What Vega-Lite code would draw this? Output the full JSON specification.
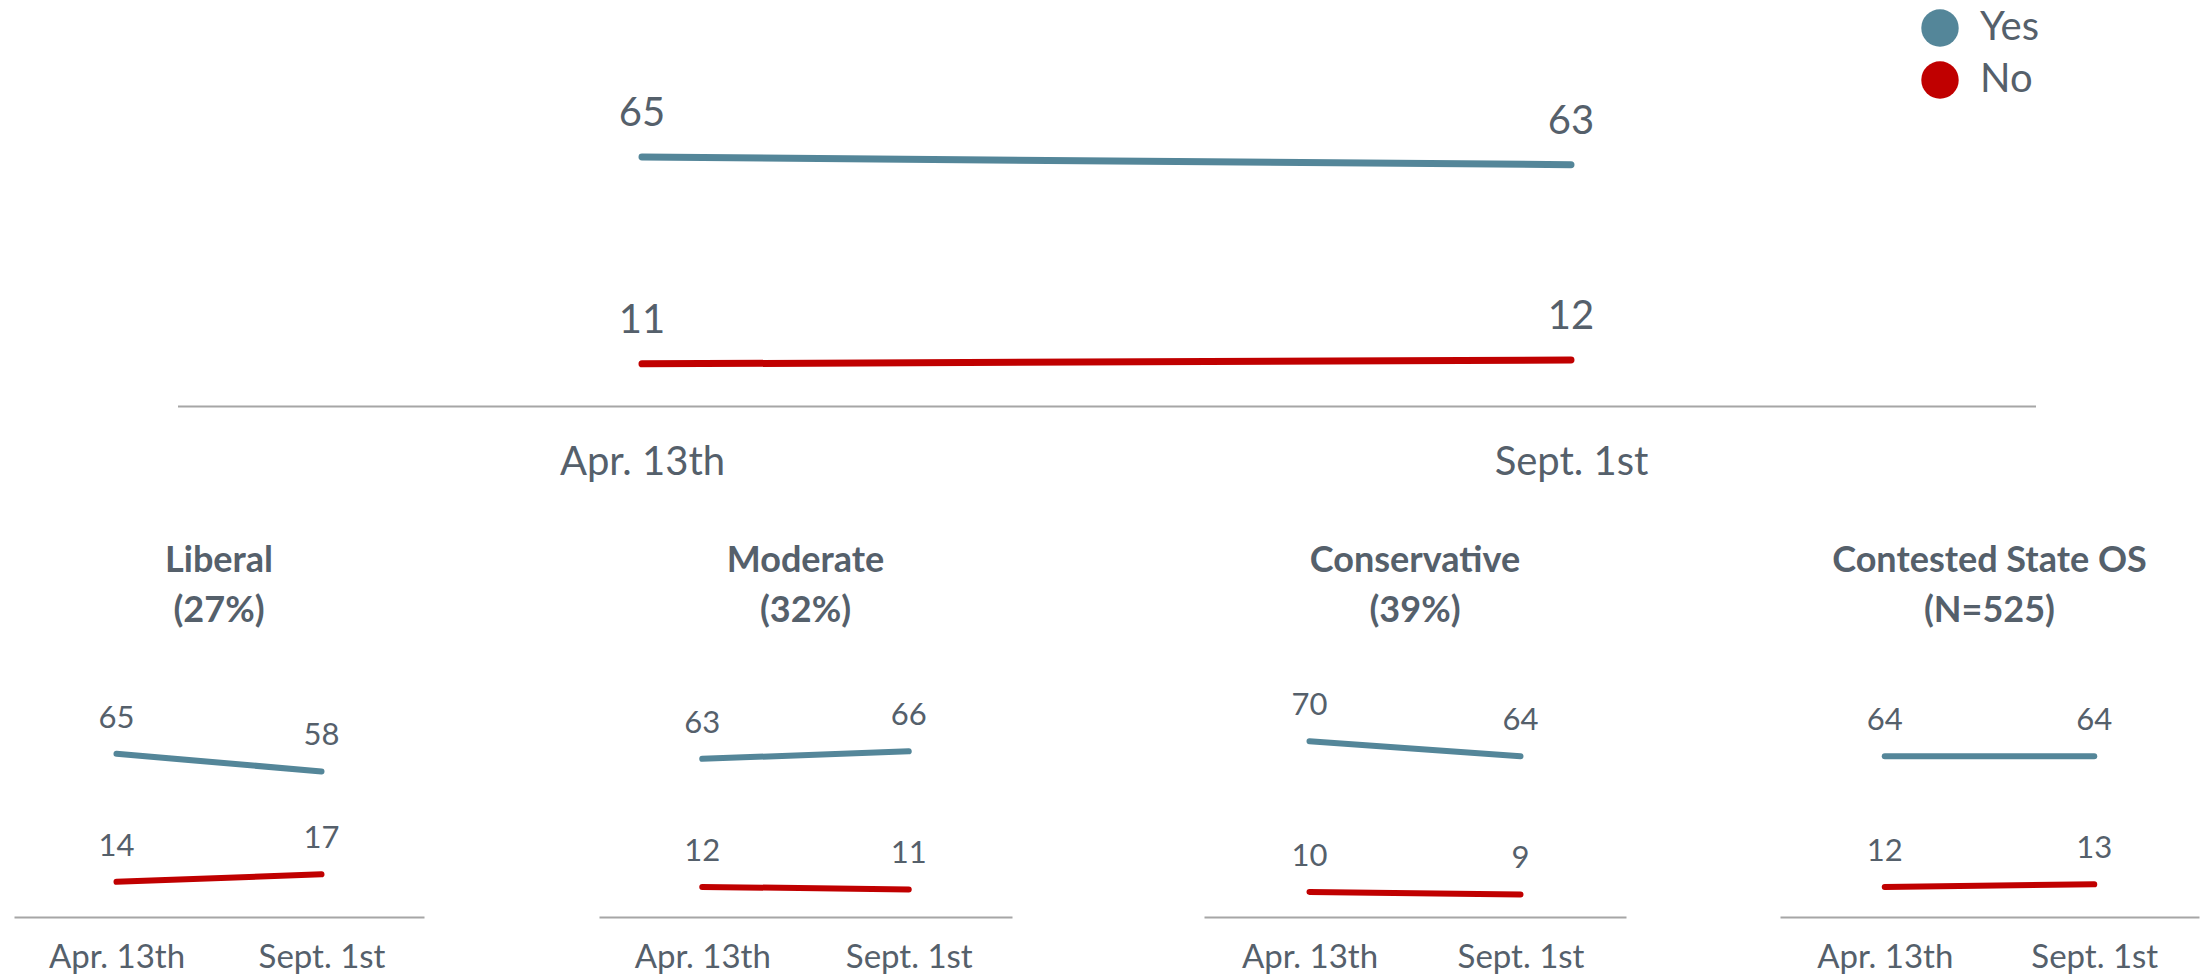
{
  "$schema": "https://vega.github.io/schema/vega-lite/v6.json",
  "padding": {"left": 14, "top": 8, "right": 3, "bottom": 2},
  "background": "white",
  "datasets": {
    "d": [
      {"group": "All", "date": "Apr. 13th", "answer": "Yes", "value": 65},
      {"group": "All", "date": "Sept. 1st", "answer": "Yes", "value": 63},
      {"group": "All", "date": "Apr. 13th", "answer": "No", "value": 11},
      {"group": "All", "date": "Sept. 1st", "answer": "No", "value": 12},
      {"group": "Liberal", "date": "Apr. 13th", "answer": "Yes", "value": 65},
      {"group": "Liberal", "date": "Sept. 1st", "answer": "Yes", "value": 58},
      {"group": "Liberal", "date": "Apr. 13th", "answer": "No", "value": 14},
      {"group": "Liberal", "date": "Sept. 1st", "answer": "No", "value": 17},
      {"group": "Moderate", "date": "Apr. 13th", "answer": "Yes", "value": 63},
      {"group": "Moderate", "date": "Sept. 1st", "answer": "Yes", "value": 66},
      {"group": "Moderate", "date": "Apr. 13th", "answer": "No", "value": 12},
      {"group": "Moderate", "date": "Sept. 1st", "answer": "No", "value": 11},
      {"group": "Conservative", "date": "Apr. 13th", "answer": "Yes", "value": 70},
      {"group": "Conservative", "date": "Sept. 1st", "answer": "Yes", "value": 64},
      {"group": "Conservative", "date": "Apr. 13th", "answer": "No", "value": 10},
      {"group": "Conservative", "date": "Sept. 1st", "answer": "No", "value": 9},
      {"group": "Contested", "date": "Apr. 13th", "answer": "Yes", "value": 64},
      {"group": "Contested", "date": "Sept. 1st", "answer": "Yes", "value": 64},
      {"group": "Contested", "date": "Apr. 13th", "answer": "No", "value": 12},
      {"group": "Contested", "date": "Sept. 1st", "answer": "No", "value": 13}
    ]
  },
  "data": {"name": "d"},
  "center": true,
  "spacing": 61,
  "config": {
    "view": {"stroke": null},
    "font": "Lato",
    "axis": {"ticks": false, "grid": false, "domainColor": "#a6a6a6", "domainWidth": 2, "labelColor": "#55606b", "labelAngle": 0, "title": null, "labelFont": "Lato"},
    "title": {"fontSize": 36, "fontWeight": "bold", "color": "#55606b", "lineHeight": 50, "offset": 36, "anchor": "middle", "font": "Lato"},
    "text": {"font": "Lato"}
  },
  "vconcat": [
    {
      "width": 1858,
      "height": 383,
      "transform": [{"filter": "datum.group === 'All'"}],
      "encoding": {
        "x": {"field": "date", "type": "nominal", "sort": ["Apr. 13th", "Sept. 1st"], "axis": {"labelFontSize": 40, "labelPadding": 36}},
        "y": {"field": "value", "type": "quantitative", "scale": {"domain": [0, 100]}, "axis": null},
        "color": {
          "field": "answer", "type": "nominal",
          "scale": {"domain": ["Yes", "No"], "range": ["#548699", "#c00000"]},
          "legend": {
            "title": null, "orient": "none", "legendX": 1906, "legendY": -15,
            "symbolType": "circle", "symbolSize": 1400, "symbolStrokeWidth": 0,
            "labelFontSize": 40, "labelColor": "#55606b", "labelFont": "Lato",
            "rowPadding": 12, "labelOffset": 20, "padding": 0,
            "encode": {"symbols": {"update": {"fill": {"scale": "color", "field": "value"}, "fillOpacity": {"value": 1}}}}
          }
        }
      },
      "layer": [
        {"mark": {"type": "line", "strokeWidth": 7, "strokeCap": "round"}},
        {"mark": {"type": "text", "fontSize": 40, "dy": -43, "baseline": "middle"}, "encoding": {"text": {"field": "value", "type": "quantitative"}, "color": {"value": "#55606b"}}}
      ]
    },
    {
      "spacing": 192,
      "hconcat": [
        {
          "spacing": 175,
          "hconcat": [
            {
              "width": 410, "height": 251,
              "title": {"text": ["Liberal", "(27%)"]},
              "transform": [{"filter": "datum.group === 'Liberal'"}],
              "encoding": {
                "x": {"field": "date", "type": "nominal", "sort": ["Apr. 13th", "Sept. 1st"], "axis": {"labelFontSize": 33, "labelPadding": 24}},
                "y": {"field": "value", "type": "quantitative", "scale": {"domain": [0, 100]}, "axis": null},
                "color": {"field": "answer", "type": "nominal"}
              },
              "layer": [
                {"mark": {"type": "line", "strokeWidth": 6, "strokeCap": "round"}},
                {"mark": {"type": "text", "fontSize": 31, "dy": -35, "baseline": "middle"}, "encoding": {"text": {"field": "value", "type": "quantitative"}, "color": {"value": "#55606b"}}}
              ]
            },
            {
              "width": 413, "height": 251,
              "title": {"text": ["Moderate", "(32%)"]},
              "transform": [{"filter": "datum.group === 'Moderate'"}],
              "encoding": {
                "x": {"field": "date", "type": "nominal", "sort": ["Apr. 13th", "Sept. 1st"], "axis": {"labelFontSize": 33, "labelPadding": 24}},
                "y": {"field": "value", "type": "quantitative", "scale": {"domain": [0, 100]}, "axis": null},
                "color": {"field": "answer", "type": "nominal"}
              },
              "layer": [
                {"mark": {"type": "line", "strokeWidth": 6, "strokeCap": "round"}},
                {"mark": {"type": "text", "fontSize": 31, "dy": -35, "baseline": "middle"}, "encoding": {"text": {"field": "value", "type": "quantitative"}, "color": {"value": "#55606b"}}}
              ]
            }
          ]
        },
        {
          "spacing": 154,
          "hconcat": [
            {
              "width": 422, "height": 251,
              "title": {"text": ["Conservative", "(39%)"]},
              "transform": [{"filter": "datum.group === 'Conservative'"}],
              "encoding": {
                "x": {"field": "date", "type": "nominal", "sort": ["Apr. 13th", "Sept. 1st"], "axis": {"labelFontSize": 33, "labelPadding": 24}},
                "y": {"field": "value", "type": "quantitative", "scale": {"domain": [0, 100]}, "axis": null},
                "color": {"field": "answer", "type": "nominal"}
              },
              "layer": [
                {"mark": {"type": "line", "strokeWidth": 6, "strokeCap": "round"}},
                {"mark": {"type": "text", "fontSize": 31, "dy": -35, "baseline": "middle"}, "encoding": {"text": {"field": "value", "type": "quantitative"}, "color": {"value": "#55606b"}}}
              ]
            },
            {
              "width": 419, "height": 251,
              "title": {"text": ["Contested State OS", "(N=525)"]},
              "transform": [{"filter": "datum.group === 'Contested'"}],
              "encoding": {
                "x": {"field": "date", "type": "nominal", "sort": ["Apr. 13th", "Sept. 1st"], "axis": {"labelFontSize": 33, "labelPadding": 24}},
                "y": {"field": "value", "type": "quantitative", "scale": {"domain": [0, 100]}, "axis": null},
                "color": {"field": "answer", "type": "nominal"}
              },
              "layer": [
                {"mark": {"type": "line", "strokeWidth": 6, "strokeCap": "round"}},
                {"mark": {"type": "text", "fontSize": 31, "dy": -35, "baseline": "middle"}, "encoding": {"text": {"field": "value", "type": "quantitative"}, "color": {"value": "#55606b"}}}
              ]
            }
          ]
        }
      ]
    }
  ]
}
